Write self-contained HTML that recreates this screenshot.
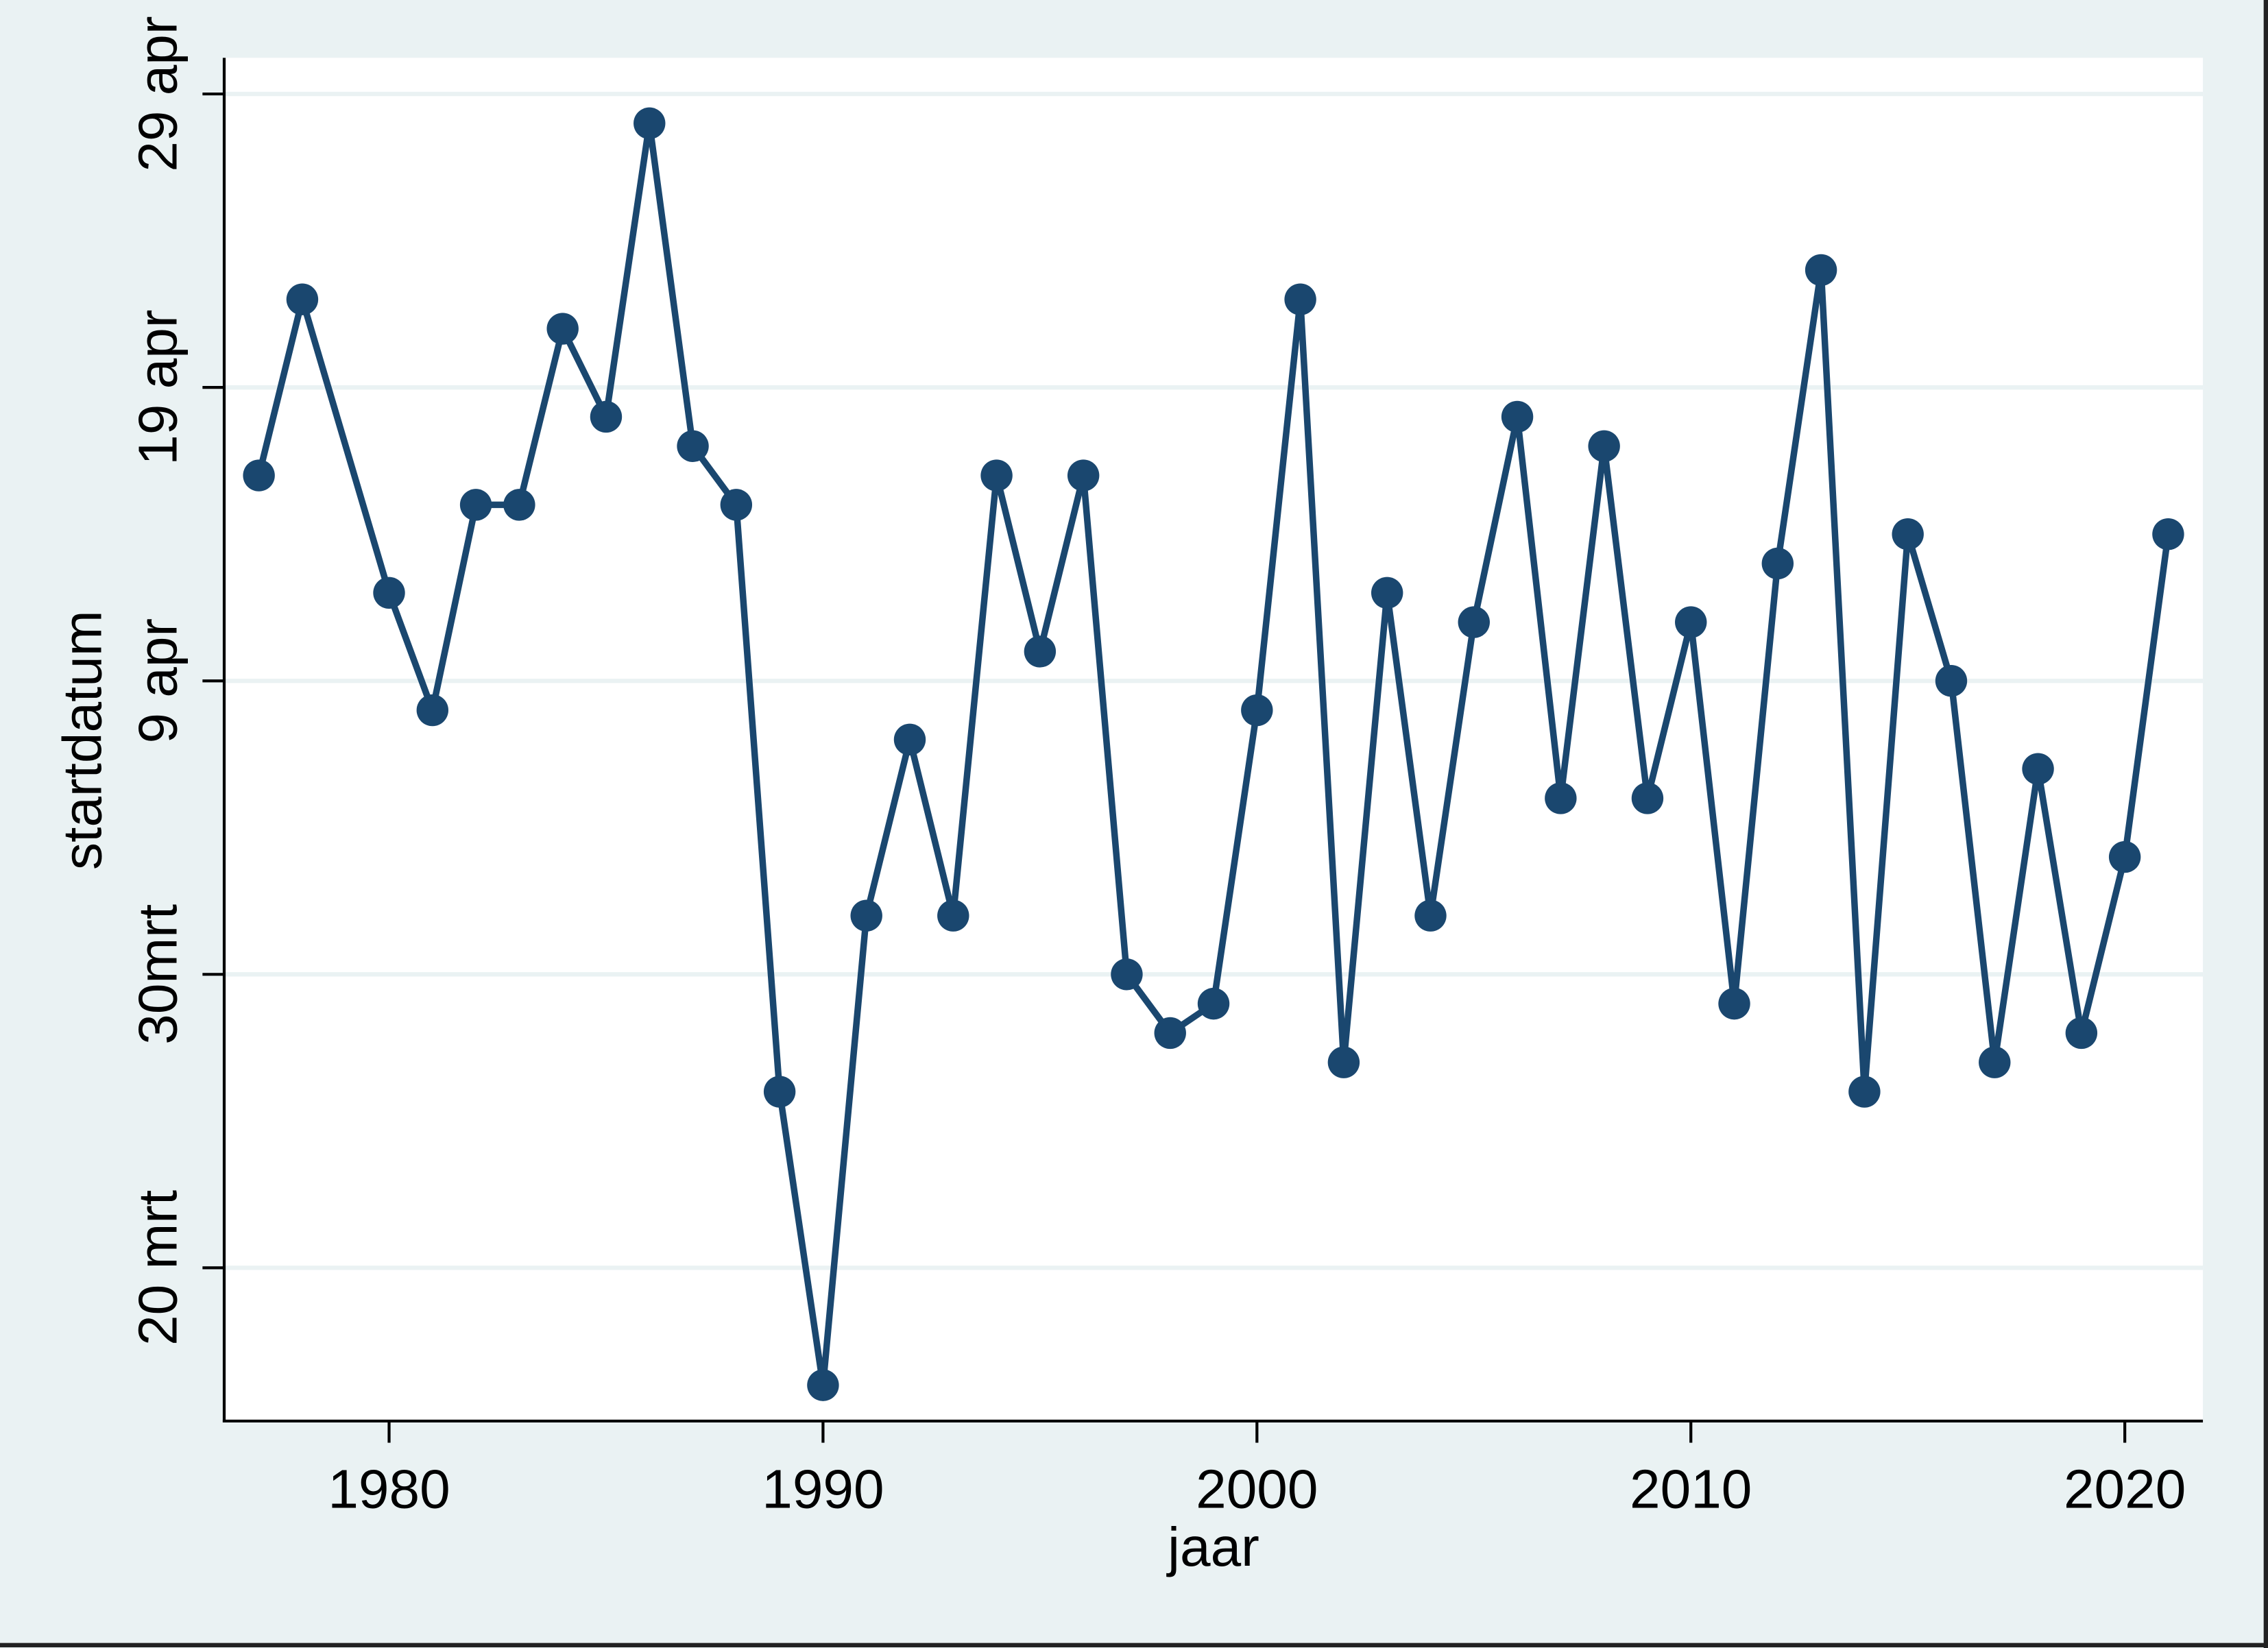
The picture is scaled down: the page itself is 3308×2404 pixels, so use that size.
<!DOCTYPE html>
<html><head><meta charset="utf-8"><style>
html,body{margin:0;padding:0;background:#eaf2f3;}
svg{display:block;}
text{font-family:"Liberation Sans",sans-serif;fill:#000;}
</style></head><body>
<svg id="chart" width="3308" height="2404" viewBox="0 0 1568 1140" preserveAspectRatio="none" xmlns="http://www.w3.org/2000/svg">
<rect x="0" y="0" width="1568" height="1140" fill="#eaf2f3"/>
<rect x="155" y="40" width="1368" height="943" fill="#ffffff"/>
<g id="grid"></g>
<g id="axes"></g>
<g id="series"></g>
<text transform="translate(70,512) rotate(-90)" text-anchor="middle" font-size="38">startdatum</text>
<text x="839" y="1083" text-anchor="middle" font-size="38">jaar</text>
<line x1="0" y1="1138" x2="1568" y2="1138" stroke="#222" stroke-width="3"/>
<line x1="1566.5" y1="0" x2="1566.5" y2="1140" stroke="#222" stroke-width="3"/>
</svg>
<script>
const years=[1977,1978,1980,1981,1982,1983,1984,1985,1986,1987,1988,1989,1990,1991,1992,1993,1994,1995,1996,1997,1998,1999,2000,2001,2002,2003,2004,2005,2006,2007,2008,2009,2010,2011,2012,2013,2014,2015,2016,2017,2018,2019,2020,2021];
// days after 20 March
const startDays=[27,33,23,19,26,26,32,29,39,28,26,6,-4,12,18,12,27,21,27,10,8,9,19,33,7,23,12,22,29,16,28,16,22,9,24,34,6,25,20,7,17,8,14,25];
const yTickValues=[0,10,20,30,40];
const yTickLabels=["20 mrt","30mrt","9 apr","19 apr","29 apr"];
const xTickValues=[1980,1990,2000,2010,2020];
const xTickLabels=["1980","1990","2000","2010","2020"];
const NS="http://www.w3.org/2000/svg";
const xs=v=>269+(v-1980)*30;
const ys=v=>877-v*20.3;
function mk(tag,attrs,parent){const e=document.createElementNS(NS,tag);for(const k in attrs)e.setAttribute(k,attrs[k]);parent.appendChild(e);return e;}
const grid=document.getElementById('grid'),axes=document.getElementById('axes'),series=document.getElementById('series');
yTickValues.forEach((v,i)=>{
 const g=mk('line',{x1:155,x2:1523,y1:ys(v),y2:ys(v),stroke:'#eaf2f3','stroke-width':3},grid);
 
 
 const t=mk('line',{x1:140,x2:155,y1:ys(v),y2:ys(v),stroke:'#000','stroke-width':2},axes);
 
 
 const l=mk('text',{transform:`translate(122,${ys(v)}) rotate(-90)`,'text-anchor':'middle','font-size':38},axes);
 l.textContent=yTickLabels[i];
 
 
});
xTickValues.forEach((v,i)=>{
 const t=mk('line',{x1:xs(v),x2:xs(v),y1:983,y2:998,stroke:'#000','stroke-width':2},axes);
 
 
 const l=mk('text',{x:xs(v),y:1043,'text-anchor':'middle','font-size':38},axes);
 l.textContent=xTickLabels[i];
 
 
});
const ya=mk('line',{x1:155,x2:155,y1:40,y2:984,stroke:'#000','stroke-width':2},axes);


const xa=mk('line',{x1:154,x2:1523,y1:983,y2:983,stroke:'#000','stroke-width':2},axes);


const pts=years.map((y,i)=>xs(y)+','+ys(startDays[i])).join(' ');
const pl=mk('polyline',{points:pts,fill:'none',stroke:'#1a476f','stroke-width':4.5,'stroke-linejoin':'round'},series);


years.forEach((y,i)=>{
 const c=mk('circle',{cx:xs(y),cy:ys(startDays[i]),r:11,fill:'#1a476f'},series);
 
 
});
</script>
</body></html>
